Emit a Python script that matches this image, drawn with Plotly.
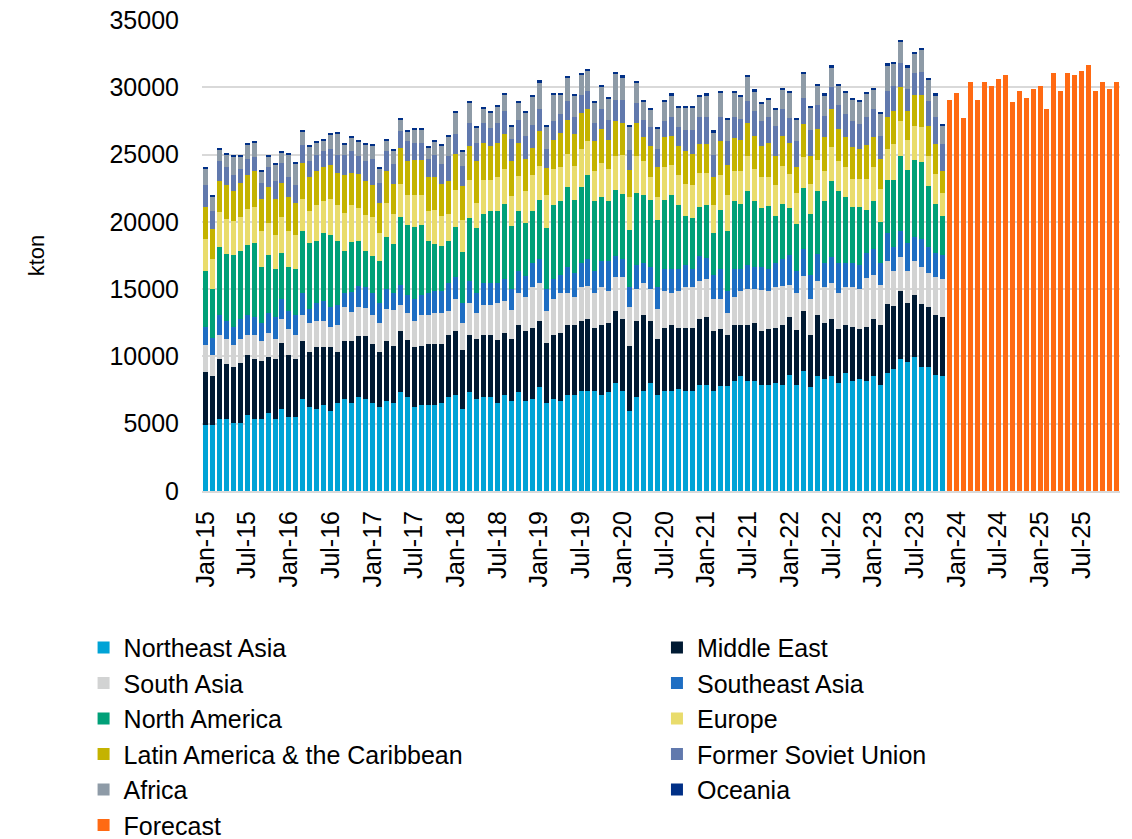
import numpy as np
import pandas as pd
import plotly.graph_objects as go

# ---------------- data (kton) ----------------
# Monthly categories Jan-15 .. Dec-25
months = [d.strftime("%b-%y") for d in pd.date_range("2015-01-01", "2025-12-01", freq="MS")]
hist_months = months[:107]      # Jan-15 .. Nov-23
fc_months = months[107:]        # Dec-23 .. Dec-25

tick_labels = ["Jan-15", "Jul-15", "Jan-16", "Jul-16", "Jan-17", "Jul-17", "Jan-18", "Jul-18",
               "Jan-19", "Jul-19", "Jan-20", "Jul-20", "Jan-21", "Jul-21", "Jan-22", "Jul-22",
               "Jan-23", "Jul-23", "Jan-24", "Jul-24", "Jan-25", "Jul-25"]

# Cumulative top of each stacked band, thousand kton
top_northeast_asia = [
    4.91, 4.91, 5.36, 5.36, 5.06, 5.06, 5.65, 5.36, 5.36, 5.80,
    5.36, 6.10, 5.51, 5.51, 6.85, 6.25, 6.10, 6.40, 5.95, 6.55,
    6.85, 6.55, 7.00, 6.85, 6.55, 6.25, 6.70, 6.57, 7.32, 6.97,
    6.27, 6.40, 6.40, 6.40, 6.57, 6.97, 7.14, 6.08, 7.32, 6.82,
    6.97, 6.97, 6.57, 7.14, 6.72, 7.32, 6.72, 6.82, 7.71, 6.57,
    6.82, 6.72, 7.14, 7.14, 7.44, 7.44, 7.44, 7.14, 7.32, 8.06,
    7.44, 5.95, 6.97, 7.44, 8.01, 7.14, 7.44, 7.44, 7.56, 7.44,
    7.44, 7.89, 7.89, 7.44, 7.77, 7.77, 8.21, 8.51, 8.21, 8.21,
    7.89, 7.89, 8.06, 7.89, 8.63, 7.89, 8.93, 7.76, 8.51, 8.33,
    8.51, 8.06, 8.80, 8.21, 8.33, 8.21, 8.51, 7.89, 8.80, 9.08,
    9.82, 9.55, 9.95, 9.20, 9.20, 8.63, 8.51]
top_middle_east = [
    8.88, 8.58, 9.80, 9.47, 9.20, 9.50, 10.09, 9.80, 9.65, 9.95,
    9.80, 10.99, 10.09, 9.80, 11.14, 10.34, 10.69, 10.69, 10.69, 10.34,
    11.14, 11.14, 11.55, 11.55, 10.95, 10.34, 11.14, 10.81, 11.86, 11.24,
    10.69, 10.81, 10.94, 10.94, 10.94, 11.56, 11.86, 10.49, 11.56, 11.28,
    11.56, 11.56, 11.24, 11.73, 11.28, 12.30, 11.86, 12.10, 12.60, 10.99,
    11.56, 11.73, 12.30, 12.30, 12.60, 12.77, 12.15, 12.30, 12.47, 13.34,
    12.77, 10.81, 12.60, 13.05, 12.60, 11.28, 12.15, 12.30, 12.15, 12.15,
    12.15, 12.77, 12.92, 11.86, 12.05, 11.56, 12.30, 12.30, 12.30, 12.47,
    11.86, 12.03, 12.15, 12.30, 12.90, 11.98, 13.34, 11.56, 13.05, 12.48,
    12.77, 12.03, 12.35, 12.18, 12.03, 12.18, 12.77, 12.30, 13.91, 13.76,
    14.83, 13.96, 14.53, 13.91, 13.64, 13.05, 12.90]
top_south_asia = [
    10.86, 10.09, 11.56, 11.28, 10.84, 11.28, 11.58, 11.58, 11.16, 11.73,
    11.28, 12.77, 12.03, 11.58, 13.07, 12.47, 12.62, 12.62, 12.18, 12.33,
    13.67, 13.30, 13.65, 13.60, 13.08, 12.47, 13.52, 13.47, 13.79, 13.22,
    12.60, 13.05, 13.05, 13.22, 13.22, 13.34, 14.26, 12.48, 13.96, 13.22,
    13.79, 13.79, 13.96, 14.14, 13.42, 14.71, 14.41, 15.13, 15.45, 13.34,
    14.26, 14.71, 14.71, 14.41, 15.13, 15.20, 14.71, 15.13, 14.83, 15.90,
    15.90, 13.67, 15.00, 15.45, 15.00, 13.52, 14.83, 14.71, 14.83, 15.13,
    15.13, 15.58, 15.75, 14.26, 14.29, 13.22, 14.41, 14.83, 15.00, 15.00,
    14.96, 14.83, 15.13, 15.25, 15.33, 14.71, 16.00, 14.26, 15.58, 15.13,
    15.45, 14.71, 15.13, 15.15, 15.00, 15.82, 16.07, 15.33, 17.11, 16.32,
    17.36, 16.37, 17.11, 16.64, 16.20, 15.87, 15.75]
top_southeast_asia = [
    12.18, 11.40, 13.07, 12.62, 12.18, 12.77, 13.07, 12.92, 12.47, 13.22,
    12.92, 14.26, 13.37, 13.07, 14.71, 13.52, 13.96, 14.11, 13.67, 13.81,
    14.71, 14.80, 15.20, 15.15, 14.71, 13.96, 15.00, 14.71, 15.28, 14.56,
    14.26, 14.53, 14.71, 14.83, 14.83, 15.45, 15.87, 13.96, 15.58, 14.71,
    15.45, 15.45, 15.45, 15.75, 15.00, 16.32, 16.00, 16.94, 17.24, 15.00,
    15.75, 16.07, 16.64, 16.20, 16.94, 17.24, 16.32, 17.06, 17.06, 17.49,
    17.24, 15.13, 16.77, 16.94, 16.62, 15.13, 16.49, 16.49, 16.49, 16.77,
    16.49, 17.49, 17.31, 16.02, 16.49, 14.83, 16.49, 16.49, 16.77, 16.64,
    16.62, 16.49, 16.94, 17.24, 17.51, 16.32, 17.98, 16.02, 17.61, 16.94,
    17.36, 16.94, 16.94, 16.94, 16.82, 17.68, 17.98, 16.94, 19.17, 18.13,
    19.30, 18.43, 18.87, 18.72, 18.13, 17.68, 17.51]
top_north_america = [
    16.32, 14.98, 18.10, 17.63, 17.51, 17.81, 18.25, 18.40, 16.62, 17.51,
    16.47, 17.66, 16.62, 16.47, 19.30, 18.40, 18.55, 19.15, 19.02, 18.55,
    17.81, 18.50, 18.55, 17.81, 17.50, 17.06, 18.85, 18.38, 20.34, 19.74,
    19.59, 19.74, 18.55, 18.38, 18.23, 18.55, 19.59, 17.78, 20.29, 19.54,
    20.61, 20.78, 20.78, 21.35, 19.69, 20.78, 19.94, 20.78, 21.65, 19.54,
    21.23, 21.53, 22.57, 21.65, 22.57, 23.46, 21.53, 21.83, 21.53, 22.40,
    22.10, 19.42, 22.15, 21.97, 21.65, 20.16, 21.65, 21.97, 21.23, 20.46,
    20.29, 21.08, 21.23, 19.17, 20.88, 19.30, 21.53, 21.35, 22.27, 21.53,
    21.03, 21.21, 20.46, 21.35, 21.03, 19.84, 22.52, 20.61, 22.27, 21.53,
    23.02, 22.27, 21.83, 21.08, 21.08, 20.91, 21.53, 19.99, 23.14, 23.14,
    24.93, 23.88, 24.63, 24.45, 22.69, 21.35, 20.46]
top_europe = [
    18.72, 17.24, 20.76, 20.21, 20.06, 20.36, 20.96, 21.10, 19.32, 19.92,
    19.02, 20.36, 19.32, 19.02, 21.70, 20.81, 21.25, 21.55, 21.70, 21.25,
    20.66, 21.25, 21.00, 20.50, 20.35, 19.17, 21.40, 20.61, 22.84, 21.97,
    21.97, 21.97, 20.78, 20.91, 20.46, 20.61, 22.40, 20.16, 23.14, 21.40,
    23.14, 23.14, 23.31, 23.93, 21.92, 23.39, 22.27, 23.51, 24.18, 22.02,
    23.93, 24.08, 25.07, 24.18, 25.42, 25.99, 23.76, 24.38, 23.93, 24.88,
    25.00, 21.85, 24.93, 24.50, 23.34, 21.85, 24.08, 24.21, 23.46, 22.84,
    22.72, 23.63, 23.63, 21.23, 23.46, 22.02, 23.76, 23.76, 24.88, 23.93,
    23.31, 23.31, 22.72, 24.18, 23.59, 22.15, 24.80, 22.84, 24.63, 23.76,
    25.55, 24.50, 24.06, 23.19, 23.19, 23.19, 24.08, 22.45, 25.42, 25.82,
    27.48, 26.12, 27.16, 27.03, 24.93, 23.59, 22.15]
top_latin_america = [
    21.10, 19.47, 23.02, 22.72, 22.30, 22.89, 23.49, 23.76, 21.70, 22.59,
    21.70, 22.89, 21.85, 21.40, 24.38, 23.34, 23.76, 24.06, 24.21, 23.63,
    23.49, 23.63, 23.55, 23.00, 22.75, 21.40, 23.76, 22.84, 25.50, 24.50,
    24.63, 24.63, 23.31, 23.31, 22.84, 23.02, 25.07, 22.69, 25.67, 24.50,
    25.87, 25.67, 25.87, 26.56, 24.50, 25.87, 24.68, 25.50, 26.74, 24.01,
    26.12, 26.61, 27.60, 26.56, 28.10, 28.35, 25.99, 26.91, 26.12, 27.48,
    27.31, 23.88, 27.31, 26.29, 25.67, 24.06, 26.31, 26.41, 25.67, 25.25,
    25.05, 25.82, 25.82, 23.34, 25.99, 24.21, 26.24, 26.12, 27.31, 26.41,
    25.67, 25.87, 24.93, 26.41, 25.87, 24.08, 27.28, 24.93, 26.91, 26.29,
    28.35, 26.91, 26.29, 25.55, 25.42, 25.69, 26.29, 24.68, 27.78, 28.22,
    30.01, 28.22, 29.41, 29.39, 27.16, 25.82, 23.76]
top_former_soviet_union = [
    22.72, 20.78, 24.50, 24.06, 23.46, 23.91, 24.65, 24.80, 22.89, 24.06,
    23.02, 24.38, 23.34, 22.72, 25.70, 24.50, 24.95, 25.25, 25.40, 24.95,
    24.95, 25.25, 24.90, 24.50, 24.70, 22.89, 25.25, 24.33, 26.74, 25.99,
    25.87, 25.87, 24.68, 24.99, 24.33, 24.93, 26.56, 24.18, 27.31, 25.87,
    27.31, 26.98, 27.31, 28.22, 26.17, 27.60, 26.41, 27.23, 28.35, 25.42,
    27.48, 27.98, 28.97, 27.80, 29.41, 29.71, 27.36, 28.35, 27.60, 29.09,
    29.09, 25.37, 28.84, 27.60, 27.03, 25.42, 27.48, 27.80, 27.03, 26.86,
    26.86, 27.80, 27.80, 25.00, 27.80, 25.99, 27.80, 27.65, 28.97, 28.22,
    27.48, 27.80, 27.11, 28.35, 27.73, 25.99, 29.22, 26.86, 28.65, 27.90,
    30.01, 28.65, 28.03, 27.48, 27.28, 27.78, 28.35, 26.41, 29.71, 30.13,
    31.77, 29.84, 31.03, 31.15, 28.97, 27.78, 25.82]
top_africa = [
    23.93, 21.85, 25.37, 24.97, 24.83, 24.83, 25.72, 25.87, 23.76, 24.83,
    24.21, 25.12, 24.97, 24.36, 26.71, 25.57, 25.87, 26.02, 26.46, 26.56,
    25.72, 26.20, 25.90, 25.70, 25.70, 23.93, 26.02, 25.32, 27.60, 26.74,
    26.86, 26.86, 25.55, 25.99, 25.67, 26.31, 28.10, 25.25, 28.84, 26.98,
    28.40, 28.10, 28.54, 29.46, 27.11, 28.84, 28.10, 29.34, 30.38, 27.11,
    29.46, 29.46, 30.70, 29.39, 30.95, 31.25, 28.84, 30.04, 29.14, 31.03,
    30.75, 27.11, 30.33, 28.97, 28.35, 26.91, 28.97, 29.41, 28.47, 28.47,
    28.47, 29.29, 29.41, 26.66, 29.59, 27.60, 29.59, 29.29, 30.83, 29.71,
    28.79, 29.09, 28.35, 29.84, 29.59, 27.60, 31.03, 28.47, 30.16, 29.41,
    31.50, 30.16, 29.59, 29.09, 28.92, 29.54, 29.84, 28.05, 31.65, 31.77,
    33.38, 31.50, 32.51, 32.81, 30.58, 29.41, 27.16]
top_oceania = [
    24.06, 21.97, 25.52, 25.10, 24.95, 24.95, 25.84, 25.99, 23.88, 24.95,
    24.36, 25.25, 25.10, 24.48, 26.86, 25.69, 26.02, 26.14, 26.61, 26.71,
    25.87, 26.35, 26.05, 25.85, 25.82, 24.06, 26.14, 25.42, 27.73, 26.86,
    26.98, 26.98, 25.67, 26.12, 25.79, 26.44, 28.22, 25.37, 28.97, 27.11,
    28.52, 28.22, 28.67, 29.59, 27.23, 28.97, 28.22, 29.46, 30.51, 27.23,
    29.59, 29.59, 30.83, 29.51, 31.08, 31.37, 28.97, 30.16, 29.27, 31.15,
    30.88, 27.23, 30.46, 29.09, 28.47, 27.03, 29.09, 29.54, 28.60, 28.60,
    28.60, 29.41, 29.54, 26.79, 29.71, 27.73, 29.71, 29.41, 30.95, 29.84,
    28.92, 29.22, 28.47, 29.96, 29.71, 27.73, 31.15, 28.60, 30.28, 29.54,
    31.62, 30.28, 29.71, 29.22, 29.04, 29.66, 29.96, 28.17, 31.77, 31.89,
    33.51, 31.62, 32.64, 32.94, 30.70, 29.54, 27.28]

forecast = [29.09, 29.54, 27.75, 30.43, 29.09, 30.43, 30.13, 30.58, 30.88, 28.94,
            29.69, 29.24, 29.84, 30.13, 28.35, 31.03, 29.69, 31.03, 30.88, 31.18,
            31.62, 29.69, 30.43, 29.84, 30.43]

series_names = ["Northeast Asia", "Middle East", "South Asia", "Southeast Asia", "North America",
                "Europe", "Latin America & the Caribbean", "Former Soviet Union", "Africa", "Oceania"]
series_colors = ["#00A3D6", "#001A33", "#D2D3D3", "#1E6EC3", "#00A078",
                 "#E9DC6C", "#C4B300", "#6179AD", "#8E9BA7", "#002F86"]
# legend column for each series (left column / right column, as in the original)
series_legend = ["legend", "legend2", "legend", "legend2", "legend",
                 "legend2", "legend", "legend2", "legend", "legend2"]
forecast_color = "#FF6A13"

# ---------------- build ----------------
tops = np.array([top_northeast_asia, top_middle_east, top_south_asia, top_southeast_asia,
                 top_north_america, top_europe, top_latin_america, top_former_soviet_union,
                 top_africa, top_oceania]) * 1000.0
bands = np.diff(np.vstack([np.zeros(tops.shape[1]), tops]), axis=0)

fig = go.Figure()
for name, color, leg, vals in zip(series_names, series_colors, series_legend, bands):
    fig.add_trace(go.Bar(x=hist_months, y=np.round(vals), name=name, legend=leg,
                         marker=dict(color=color, line=dict(width=0))))
fig.add_trace(go.Bar(x=fc_months, y=np.array(forecast) * 1000.0, name="Forecast",
                     legend="legend", marker=dict(color=forecast_color, line=dict(width=0))))

font_family = "Liberation Sans, Arial, sans-serif"
legend_font = dict(family=font_family, size=25, color="black")
fig.update_layout(
    width=1132, height=839,
    barmode="stack", bargap=0.28,
    margin=dict(l=202, r=12, t=20, b=348, autoexpand=False),
    plot_bgcolor="white", paper_bgcolor="white",
    font=dict(family=font_family, size=25, color="black"),
    showlegend=True,
    legend=dict(orientation="v", x=-0.129, xanchor="left", y=-0.284, yanchor="top",
                traceorder="normal", font=legend_font, itemwidth=30,
                bgcolor="rgba(0,0,0,0)"),
    legend2=dict(orientation="v", x=0.4956, xanchor="left", y=-0.284, yanchor="top",
                 traceorder="normal", font=legend_font, itemwidth=30,
                 bgcolor="rgba(0,0,0,0)"),
)
fig.update_xaxes(type="category", categoryorder="array", categoryarray=months,
                 tickmode="array", tickvals=tick_labels, ticktext=tick_labels,
                 tickangle=-90, showgrid=False, showline=True, linecolor="#D9D9D9",
                 linewidth=2, ticks="", ticklabelstandoff=8,
                 tickfont=dict(family=font_family, size=25, color="black"))
fig.update_yaxes(range=[0, 35000], dtick=5000, tickformat="d", showgrid=True,
                 gridcolor="#D9D9D9", gridwidth=2, zeroline=False, ticks="",
                 ticklabelstandoff=22,
                 tickfont=dict(family=font_family, size=25, color="black"),
                 title=dict(text="kton", standoff=58,
                            font=dict(family=font_family, size=22, color="black")))

# remove the browser's default page margin so the figure sits at the window origin
fig.write_html("out.html", config={"displayModeBar": False},
               post_script="document.body.style.margin='0';document.body.style.overflow='hidden';")
